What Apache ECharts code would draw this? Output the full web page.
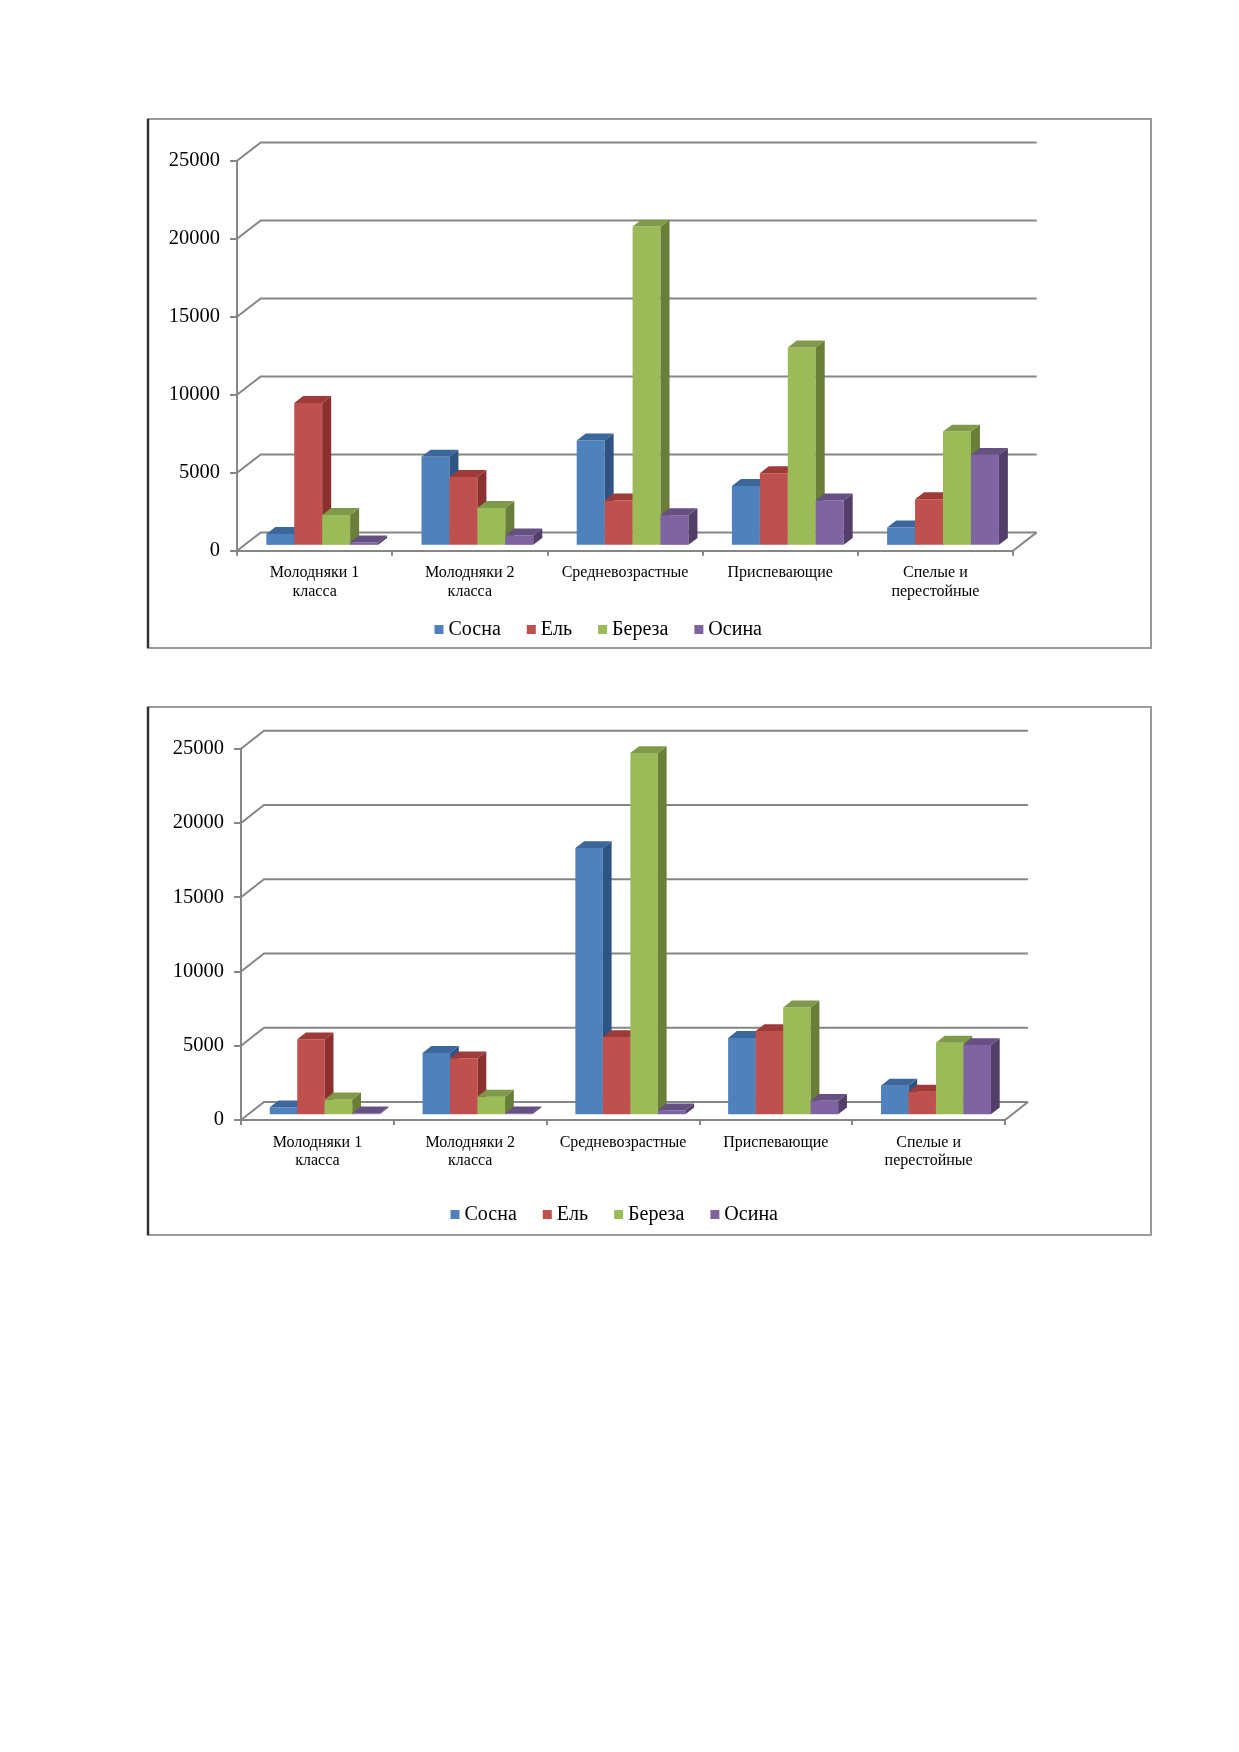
<!DOCTYPE html>
<html>
<head>
<meta charset="utf-8">
<script src="https://cdn.jsdelivr.net/npm/echarts@6/dist/echarts.min.js"></script>
<style>
html,body{margin:0;padding:0;background:#fff;}
#main{width:1239px;height:1752px;}
</style>
</head>
<body>
<div id="main"></div>
<script>
// ---------- DATA ----------
const categories = ['Молодняки 1\nкласса', 'Молодняки 2\nкласса', 'Средневозрастные', 'Приспевающие', 'Спелые и\nперестойные'];
const seriesNames = ['Сосна', 'Ель', 'Береза', 'Осина'];
const yTicks = [0, 5000, 10000, 15000, 20000, 25000];

// Chart 1 (top)
const chart1Sosna  = [700, 5650, 6690, 3780, 1110];
const chart1El     = [9100, 4350, 2840, 4590, 2930];
const chart1Bereza = [1920, 2360, 20400, 12650, 7260];
const chart1Osina  = [150, 600, 1900, 2840, 5770];

// Chart 2 (bottom)
const chart2Sosna  = [470, 4130, 17920, 5140, 1925];
const chart2El     = [5050, 3770, 5200, 5600, 1520];
const chart2Bereza = [1000, 1180, 24320, 7190, 4820];
const chart2Osina  = [60, 50, 270, 900, 4660];

// ---------- STYLE ----------
const FRONT = ['#4F81BD', '#C0504D', '#9BBB59', '#8064A2'];
const SIDE  = ['#2F5484', '#8A302E', '#687E39', '#523E68'];
const TOP   = ['#3C679C', '#9E3A38', '#7F9A48', '#664F83'];
const GRID_COLOR = '#868686';
const FONT = 'Liberation Serif';

const grids = [
  {left: 237, top: 160.7, width: 776, height: 390, DX: 23.7, DY: 18.3},
  {left: 241, top: 748.7, width: 764, height: 371.3, DX: 23, DY: 18}
];
const chartData = [
  [chart1Sosna, chart1El, chart1Bereza, chart1Osina],
  [chart2Sosna, chart2El, chart2Bereza, chart2Osina]
];

function wallsSeries(gi) {
  const DX = grids[gi].DX, DY = grids[gi].DY;
  return {
    type: 'custom', xAxisIndex: gi, yAxisIndex: gi, silent: true, z: 1,
    animation: false,
    data: yTicks.map(v => [0, v]),
    encode: {x: 0, y: 1},
    renderItem: (params, api) => {
      const cs = params.coordSys;
      const v = api.value(1);
      const y = api.coord([0, v])[1];
      const x0 = cs.x, x1 = cs.x + cs.width;
      const children = [{
        type: 'polyline',
        shape: {points: [[x0, y], [x0 + DX, y - DY], [x1 + DX, y - DY]]},
        style: {stroke: GRID_COLOR, lineWidth: 2, fill: null}
      }];
      if (v === 0) {
        children.push({type: 'line', shape: {x1: x1, y1: y, x2: x1 + DX, y2: y - DY},
          style: {stroke: GRID_COLOR, lineWidth: 2}});
      }
      return {type: 'group', children: children};
    }
  };
}

function barSeries(gi, si) {
  const DX = grids[gi].DX, DY = grids[gi].DY;
  const values = chartData[gi][si];
  return {
    type: 'custom', name: seriesNames[si], xAxisIndex: gi, yAxisIndex: gi, z: 2,
    animation: false,
    itemStyle: {color: FRONT[si]},
    data: values.map((v, i) => [i, v]),
    encode: {x: 0, y: 1},
    renderItem: (params, api) => {
      const cs = params.coordSys;
      const catW = cs.width / categories.length;
      const bw = catW * 0.18;
      const ci = api.value(0);
      const base = api.coord([ci, 0]);
      const top = api.coord([ci, api.value(1)]);
      const ox = DX * 0.32, oy = DY * 0.32;
      const bdx = DX * 0.38, bdy = DY * 0.38;
      const x = base[0] - 2 * bw + si * bw + ox;
      const yb = base[1] - oy;
      const yt = Math.min(top[1] - oy, yb - 0.8);
      return {
        type: 'group',
        children: [
          {type: 'rect', shape: {x: x, y: yt, width: bw, height: yb - yt},
            style: {fill: FRONT[si]}},
          {type: 'polygon', shape: {points: [[x + bw, yb], [x + bw + bdx, yb - bdy], [x + bw + bdx, yt - bdy], [x + bw, yt]]},
            style: {fill: SIDE[si]}},
          {type: 'polygon', shape: {points: [[x, yt], [x + bdx, yt - bdy], [x + bw + bdx, yt - bdy], [x + bw, yt]]},
            style: {fill: TOP[si]}}
        ]
      };
    }
  };
}

const xAxes = grids.map((g, gi) => ({
  type: 'category', gridIndex: gi, data: categories,
  axisLine: {show: true, lineStyle: {color: GRID_COLOR, width: 2}},
  axisTick: {show: true, length: 5, lineStyle: {color: GRID_COLOR, width: 2}},
  axisLabel: {fontFamily: FONT, fontSize: 16, color: '#000', margin: gi === 0 ? 13 : 13.5, lineHeight: 18.5, interval: 0},
  splitLine: {show: false}
}));
const yAxes = grids.map((g, gi) => ({
  type: 'value', gridIndex: gi, min: 0, max: 25000, interval: 5000,
  axisLine: {show: true, lineStyle: {color: GRID_COLOR, width: 2}},
  axisTick: {show: true, length: 7, lineStyle: {color: GRID_COLOR, width: 2}},
  axisLabel: {fontFamily: FONT, fontSize: 20.5, color: '#000', margin: 17,
    formatter: v => String(v)},
  splitLine: {show: false}
}));

const series = [];
grids.forEach((g, gi) => {
  series.push(wallsSeries(gi));
  for (let si = 0; si < seriesNames.length; si++) series.push(barSeries(gi, si));
});

const legendData = seriesNames.map((n, i) => ({name: n, itemStyle: {color: FRONT[i]}}));
const legendBase = {
  orient: 'horizontal', itemWidth: 9, itemHeight: 9, itemGap: 26, icon: 'rect',
  selectedMode: false,
  textStyle: {fontFamily: FONT, fontSize: 20, color: '#000', lineHeight: 22},
  data: legendData
};

const option = {
  backgroundColor: '#fff',
  animation: false,
  grid: grids.map(g => ({left: g.left, top: g.top, width: g.width, height: g.height, containLabel: false})),
  xAxis: xAxes,
  yAxis: yAxes,
  legend: [
    Object.assign({}, legendBase, {left: 429.5, top: 613.5}),
    Object.assign({}, legendBase, {left: 445.5, top: 1198.5})
  ],
  graphic: [
    {type: 'rect', shape: {x: 148, y: 119, width: 1003, height: 529}, style: {fill: null, stroke: '#9a9a9a', lineWidth: 2}, z: 0, silent: true},
    {type: 'line', shape: {x1: 148, y1: 119, x2: 148, y2: 648}, style: {stroke: '#333', lineWidth: 2.5}, z: 0, silent: true},
    {type: 'rect', shape: {x: 148, y: 707, width: 1003, height: 528}, style: {fill: null, stroke: '#9a9a9a', lineWidth: 2}, z: 0, silent: true},
    {type: 'line', shape: {x1: 148, y1: 707, x2: 148, y2: 1235}, style: {stroke: '#333', lineWidth: 2.5}, z: 0, silent: true}
  ],
  series: series
};

const chart = echarts.init(document.getElementById('main'), null, {renderer: 'canvas'});
chart.setOption(option);
</script>
</body>
</html>
